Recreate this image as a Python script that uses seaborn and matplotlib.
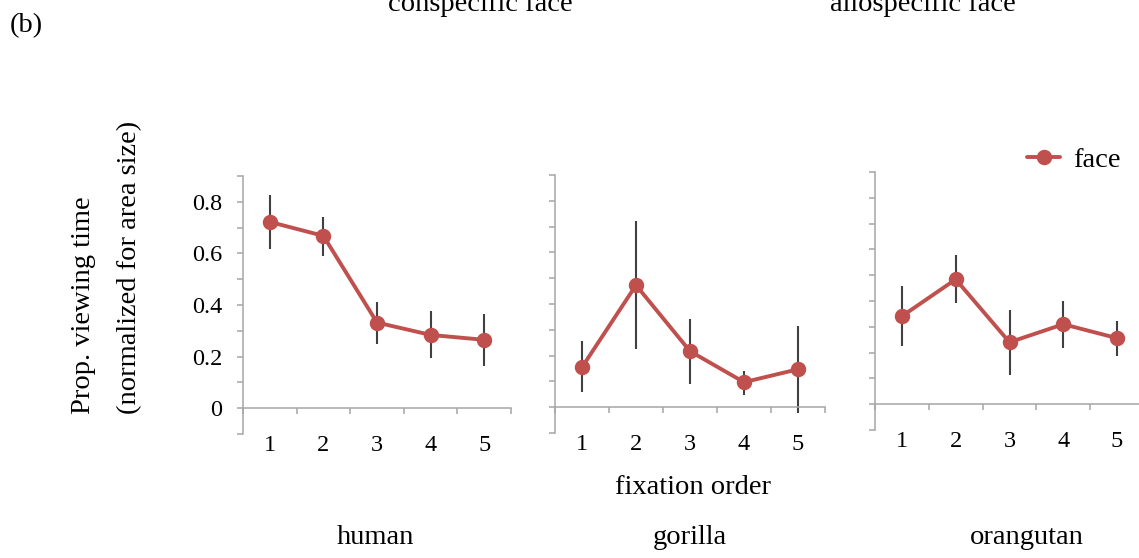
import numpy as np
import pandas as pd
import matplotlib
matplotlib.use("Agg")
import matplotlib.pyplot as plt
import seaborn as sns
from matplotlib.ticker import FixedLocator, FuncFormatter

# ---- data ----
fixation_order = ["1", "2", "3", "4", "5"]
species = ["human", "gorilla", "orangutan"]

human_mean = [0.722, 0.668, 0.332, 0.284, 0.265]
human_lo = [0.617, 0.590, 0.250, 0.194, 0.165]
human_hi = [0.827, 0.742, 0.410, 0.377, 0.365]

gorilla_mean = [0.155, 0.473, 0.217, 0.097, 0.147]
gorilla_lo = [0.058, 0.225, 0.089, 0.047, -0.023]
gorilla_hi = [0.256, 0.720, 0.341, 0.140, 0.314]

orangutan_mean = [0.341, 0.484, 0.240, 0.310, 0.256]
orangutan_lo = [0.225, 0.391, 0.112, 0.217, 0.186]
orangutan_hi = [0.457, 0.577, 0.364, 0.399, 0.322]

y_ticks = [-0.1, 0.0, 0.1, 0.2, 0.3, 0.4, 0.5, 0.6, 0.7, 0.8, 0.9]
y_labels = {0.0: "0", 0.2: "0.2", 0.4: "0.4", 0.6: "0.6", 0.8: "0.8"}

series_name = "face"
panel_titles = ["conspecific face", "allospecific face"]

# ---- style ----
sns.set_style("white")
plt.rcParams["font.family"] = ["Liberation Serif", "DejaVu Serif"]
plt.rcParams["font.size"] = 16
plt.rcParams["text.color"] = "black"
plt.rcParams["axes.labelcolor"] = "black"

line_color = "#c0504d"
err_color = "#404040"
axis_color = "#a6a6a6"
FS = 20.5      # labels
TFS = 17.5     # tick labels

fig = plt.figure(figsize=(11.39, 5.58), dpi=100)
W, H = 1139.0, 558.0

# axes boxes in pixels: (left, right, y_top(0.9), y_bottom(-0.1))
boxes = [(243, 511, 176, 434), (555, 825, 175, 433), (875, 1144, 172, 430)]

data = [
    (human_mean, human_lo, human_hi),
    (gorilla_mean, gorilla_lo, gorilla_hi),
    (orangutan_mean, orangutan_lo, orangutan_hi),
]

axes = []
for i, ((l, r, t, b), (m, lo, hi)) in enumerate(zip(boxes, data)):
    ax = fig.add_axes([l / W, 1 - b / H, (r - l) / W, (b - t) / H])
    axes.append(ax)
    df = pd.DataFrame({"order": fixation_order, "value": m})
    pos = np.arange(len(fixation_order))
    ax.vlines(pos, lo, hi, color=err_color, lw=1.5, zorder=1)
    sns.pointplot(data=df, x="order", y="value", color=line_color,
                  errorbar=None, markers="o", linestyles="-",
                  markersize=9, linewidth=2.8, ax=ax, label=series_name,
                  zorder=3)
    ax.set_xlim(-0.5, len(fixation_order) - 0.5)
    ax.set_ylim(-0.1, 0.9)
    ax.set_xlabel("")
    ax.set_ylabel("")
    ax.set_facecolor("none")
    for s in ["top", "right"]:
        ax.spines[s].set_visible(False)
    ax.spines["left"].set_color(axis_color)
    ax.spines["left"].set_linewidth(1.1)
    ax.spines["left"].set_bounds(-0.1, 0.9)
    ax.spines["bottom"].set_color(axis_color)
    ax.spines["bottom"].set_linewidth(1.1)
    ax.spines["bottom"].set_position(("data", 0))
    ax.spines["bottom"].set_bounds(-0.5, len(fixation_order) - 0.5)

    ax.yaxis.set_major_locator(FixedLocator(y_ticks))
    if i == 0:
        ax.yaxis.set_major_formatter(FuncFormatter(
            lambda v, p: y_labels.get(round(v, 1), "")))
    else:
        ax.set_yticklabels([])
    ax.tick_params(axis="y", which="major", left=True, direction="out",
                   length=4, width=1.1, color=axis_color, pad=11,
                   labelsize=TFS, labelcolor="black")
    ax.xaxis.set_minor_locator(FixedLocator(
        list(np.arange(len(fixation_order) + 1) - 0.5)))
    ax.tick_params(axis="x", which="minor", bottom=True, direction="out",
                   length=4, width=1.1, color=axis_color)
    ax.tick_params(axis="x", which="major", bottom=True, length=0, pad=19,
                   labelsize=TFS, labelcolor="black")
    ax.grid(False)
    if ax.get_legend() is not None:
        ax.get_legend().remove()

# legend
handles, labels = axes[2].get_legend_handles_labels()
fig.legend(handles[:1], labels[:1], loc="center",
           bbox_to_anchor=(1074 / W, 1 - 160 / H), frameon=False,
           fontsize=FS, handlelength=1.15, handletextpad=0.45,
           borderpad=0, borderaxespad=0, labelcolor="black")

# labels
fig.text(10 / W, 1 - 26 / H, "(b)", fontsize=FS, ha="left", va="center")
fig.text(480 / W, 1 - 11 / H, panel_titles[0], fontsize=FS, ha="center", va="baseline")
fig.text(923 / W, 1 - 11 / H, panel_titles[1], fontsize=FS, ha="center", va="baseline")

fig.text(83 / W, 1 - 414 / H, "Prop. viewing time", fontsize=FS,
         rotation=90, ha="center", va="bottom")
fig.text(130 / W, 1 - 414 / H, "(normalized for area size)", fontsize=FS,
         rotation=90, ha="center", va="bottom")

fig.text(693 / W, 1 - 488 / H, "fixation order", fontsize=FS, ha="center", va="center")
for name, x in zip(species, [375, 690, 1027]):
    fig.text(x / W, 1 - 538 / H, name, fontsize=FS, ha="center", va="center")

fig.savefig("out.png", dpi=100)
